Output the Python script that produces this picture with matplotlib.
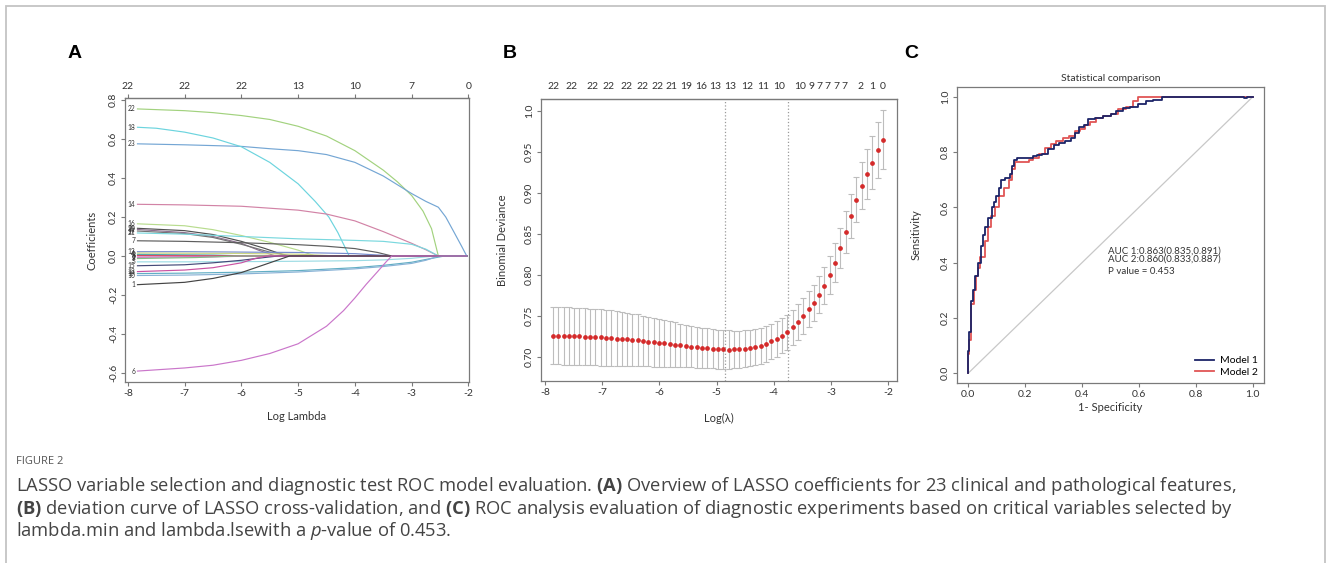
import numpy as np
import matplotlib
matplotlib.use("Agg")
import matplotlib.pyplot as plt
from matplotlib.patches import Rectangle

plt.rcParams['font.family'] = ['Lato', 'DejaVu Sans']
plt.rcParams['axes.unicode_minus'] = False
plt.rcParams['mathtext.fontset'] = 'custom'
plt.rcParams['mathtext.rm'] = 'Open Sans'
plt.rcParams['mathtext.bf'] = 'Open Sans:bold'
plt.rcParams['mathtext.it'] = 'Open Sans:italic'

# ---------------- panel A : lasso coefficient paths (log lambda, coef) ----------------
lam_end = -2.03
v22 = [(-7.83, 0.754), (-7, 0.745), (-6.5, 0.735), (-6, 0.72), (-5.5, 0.70), (-5, 0.665), (-4.5, 0.615),
       (-4, 0.54), (-3.5, 0.44), (-3.25, 0.38), (-3, 0.31), (-2.8, 0.23), (-2.65, 0.14), (-2.53, 0.0)]
v23 = [(-7.83, 0.575), (-7, 0.57), (-6, 0.562), (-5.5, 0.55), (-5, 0.54), (-4.5, 0.52), (-4, 0.48),
       (-3.5, 0.41), (-3, 0.32), (-2.75, 0.28), (-2.53, 0.25), (-2.4, 0.2), (-2.25, 0.12), (-2.12, 0.05), (-2.03, 0.0)]
v18 = [(-7.83, 0.66), (-7.5, 0.655), (-7, 0.635), (-6.5, 0.605), (-6, 0.56), (-5.5, 0.48), (-5, 0.37),
       (-4.7, 0.28), (-4.46, 0.2), (-4.3, 0.12), (-4.2, 0.06), (-4.1, 0.0)]
v14 = [(-7.83, 0.265), (-7, 0.262), (-6, 0.255), (-5, 0.235), (-4.5, 0.215), (-4, 0.18), (-3.5, 0.125),
       (-3, 0.065), (-2.75, 0.032), (-2.53, 0.0)]
v16 = [(-7.83, 0.165), (-7, 0.155), (-6.5, 0.135), (-6, 0.105), (-5.5, 0.07), (-5, 0.03), (-4.7, 0.0)]
v20 = [(-7.83, 0.142), (-7, 0.13), (-6.5, 0.11), (-6, 0.075), (-5.6, 0.04), (-5.2, 0.0)]
v11 = [(-7.83, 0.136), (-7, 0.12), (-6.5, 0.1), (-6, 0.065), (-5.7, 0.03), (-5.4, 0.0)]
v17 = [(-7.83, 0.128), (-7, 0.115), (-6.5, 0.095), (-6, 0.06), (-5.5, 0.02), (-5.1, 0.0)]
v21 = [(-7.83, 0.118), (-7, 0.112), (-6, 0.1), (-5, 0.088), (-4, 0.08), (-3.5, 0.075), (-3, 0.06),
       (-2.75, 0.035), (-2.53, 0.0)]
v7 = [(-7.83, 0.078), (-7, 0.075), (-6, 0.068), (-5, 0.058), (-4.5, 0.05), (-4, 0.038), (-3.6, 0.018), (-3.35, 0.0)]
v12 = [(-7.83, 0.022), (-7, 0.022), (-6, 0.02), (-5, 0.018), (-4, 0.012), (-3.3, 0.0)]
v4 = [(-7.83, 0.015), (-6, 0.013), (-5, 0.009), (-4.3, 0.0)]
v3 = [(-7.83, 0.008), (-6.5, 0.005), (-5.9, 0.0)]
v8 = [(-7.83, 0.002), (-6.5, 0.001), (-5.6, 0.0)]
v2 = [(-7.83, -0.006), (-6.5, -0.004), (-5.7, 0.0)]
v9 = [(-7.83, -0.013), (-6.8, -0.008), (-6.1, 0.0)]
v5 = [(-7.83, -0.03), (-7, -0.03), (-6, -0.029), (-5, -0.027), (-4, -0.024), (-3.5, -0.02), (-3, -0.012), (-2.6, 0.0)]
v15 = [(-7.83, -0.05), (-7, -0.045), (-6.5, -0.035), (-6, -0.022), (-5.6, -0.008), (-5.35, 0.0)]
v13 = [(-7.83, -0.08), (-7, -0.072), (-6.5, -0.06), (-6, -0.035), (-5.75, -0.012), (-5.55, 0.0)]
v19 = [(-7.83, -0.09), (-7, -0.088), (-6, -0.083), (-5, -0.075), (-4, -0.06), (-3.5, -0.048), (-3, -0.032),
       (-2.7, -0.015), (-2.42, 0.0)]
v10 = [(-7.83, -0.1), (-7, -0.098), (-6, -0.092), (-5, -0.082), (-4, -0.066), (-3.5, -0.054), (-3, -0.038),
       (-2.75, -0.022), (-2.52, 0.0)]
v1 = [(-7.83, -0.147), (-7, -0.135), (-6.5, -0.115), (-6, -0.085), (-5.6, -0.045), (-5.15, 0.0)]
v6 = [(-7.83, -0.59), (-7, -0.574), (-6.5, -0.56), (-6, -0.535), (-5.5, -0.5), (-5, -0.45), (-4.5, -0.36),
      (-4.2, -0.28), (-4, -0.215), (-3.8, -0.145), (-3.6, -0.08), (-3.45, -0.03), (-3.35, 0.0)]

a_paths = [(22, v22, '#A2D27E'), (23, v23, '#74A6D4'), (18, v18, '#6CD4DE'), (14, v14, '#D283A6'),
           (16, v16, '#B8DC8E'), (20, v20, '#505050'), (11, v11, '#8E7090'), (17, v17, '#747474'),
           (21, v21, '#7AD8DE'), (7, v7, '#5E5E5E'), (12, v12, '#748ACE'), (4, v4, '#CBD682'),
           (3, v3, '#58AAAA'), (8, v8, '#D44460'), (2, v2, '#C455B4'), (9, v9, '#84BE84'),
           (5, v5, '#9CDCE4'), (15, v15, '#444A78'), (13, v13, '#CA52A2'), (19, v19, '#62AEC4'),
           (10, v10, '#88B2D6'), (1, v1, '#444444'), (6, v6, '#CA76CA')]
a_top_ticks = [-8, -7, -6, -5, -4, -3, -2]
a_top_labels = ['22', '22', '22', '13', '10', '7', '0']

# ---------------- panel B : cross-validation deviance ----------------
b_loglam = [-7.86, -7.77, -7.67, -7.58, -7.49, -7.40, -7.30, -7.21, -7.12, -7.02,
            -6.93, -6.84, -6.74, -6.65, -6.56, -6.47, -6.37, -6.28, -6.19, -6.09,
            -6.00, -5.91, -5.81, -5.72, -5.63, -5.53, -5.44, -5.35, -5.26, -5.16,
            -5.07, -4.98, -4.88, -4.79, -4.70, -4.60, -4.51, -4.42, -4.33, -4.23,
            -4.14, -4.05, -3.95, -3.86, -3.77, -3.67, -3.58, -3.49, -3.39, -3.30,
            -3.21, -3.12, -3.02, -2.93, -2.84, -2.74, -2.65, -2.56, -2.46, -2.37,
            -2.28, -2.18, -2.09]
b_dev = [0.726, 0.726, 0.7258, 0.7255, 0.7252, 0.725, 0.7247, 0.7244, 0.7241, 0.7238,
         0.7234, 0.723, 0.7225, 0.722, 0.7214, 0.7208, 0.7202, 0.7195, 0.7188, 0.7181,
         0.7174, 0.7166, 0.7158, 0.715, 0.7142, 0.7134, 0.7127, 0.712, 0.7112, 0.7106,
         0.710, 0.7095, 0.7092, 0.7091, 0.7092, 0.7094, 0.710, 0.7108, 0.712, 0.7138,
         0.716, 0.719, 0.722, 0.726, 0.730, 0.736, 0.743, 0.750, 0.758, 0.766,
         0.776, 0.787, 0.800, 0.815, 0.833, 0.852, 0.872, 0.892, 0.909, 0.923,
         0.937, 0.952, 0.965]
b_se = [0.035, 0.035, 0.035, 0.035, 0.035, 0.035, 0.0348, 0.0346, 0.0344, 0.0342,
        0.034, 0.0337, 0.0334, 0.033, 0.0326, 0.0321, 0.0316, 0.031, 0.0304, 0.0298,
        0.0292, 0.0285, 0.0278, 0.0272, 0.0266, 0.026, 0.0255, 0.025, 0.0246, 0.0242,
        0.0239, 0.0236, 0.0234, 0.0232, 0.023, 0.0228, 0.0226, 0.0224, 0.0222, 0.022,
        0.0218, 0.0216, 0.0215, 0.0215, 0.0215, 0.0216, 0.0217, 0.0218, 0.022, 0.0222,
        0.0225, 0.0228, 0.0232, 0.0238, 0.0245, 0.0255, 0.0265, 0.0277, 0.029, 0.0305,
        0.032, 0.034, 0.036]
lam_min = -4.85
lam_1se = -3.75
b_top_pos = [-7.86, -7.545, -7.178, -6.898, -6.566, -6.303, -6.041, -5.779, -5.534, -5.271,
             -5.026, -4.764, -4.467, -4.187, -3.907, -3.540, -3.347, -3.207, -3.067, -2.910,
             -2.770, -2.473, -2.280, -2.088]
b_top_labels = ['22', '22', '22', '22', '22', '22', '22', '21', '19', '16', '13', '13', '12', '11',
                '10', '10', '9', '7', '7', '7', '7', '2', '1', '0']

# ---------------- panel C : ROC curves ----------------
m1_fpr = [0.0, 0.0, 0.006, 0.015, 0.02, 0.03, 0.04, 0.047, 0.055, 0.065, 0.075, 0.088, 0.094, 0.103,
          0.112, 0.12, 0.14, 0.15, 0.158, 0.165, 0.176, 0.22, 0.235, 0.25, 0.27, 0.29, 0.31, 0.33,
          0.35, 0.37, 0.38, 0.40, 0.415, 0.43, 0.46, 0.49, 0.51, 0.53, 0.56, 0.58, 0.61, 0.64, 0.66,
          0.70, 0.96, 0.98, 0.98, 1.0]
m1_tpr = [0.0, 0.08, 0.15, 0.26, 0.30, 0.35, 0.40, 0.46, 0.50, 0.53, 0.56, 0.60, 0.62, 0.64,
          0.67, 0.70, 0.705, 0.72, 0.75, 0.77, 0.779, 0.779, 0.785, 0.79, 0.795, 0.81, 0.825, 0.835,
          0.84, 0.85, 0.87, 0.89, 0.90, 0.92, 0.925, 0.93, 0.94, 0.95, 0.96, 0.965, 0.975, 0.985, 0.99,
          1.0, 1.0, 0.996, 1.0, 1.0]
m2_fpr = [0.0, 0.0, 0.006, 0.015, 0.022, 0.03, 0.04, 0.045, 0.058, 0.062, 0.075, 0.085, 0.10, 0.118,
          0.135, 0.15, 0.16, 0.168, 0.21, 0.22, 0.235, 0.26, 0.28, 0.30, 0.32, 0.345, 0.365, 0.385,
          0.40, 0.42, 0.435, 0.46, 0.49, 0.51, 0.54, 0.57, 0.59, 0.60, 1.0]
m2_tpr = [0.0, 0.07, 0.12, 0.25, 0.30, 0.35, 0.38, 0.42, 0.42, 0.48, 0.53, 0.57, 0.60, 0.64,
          0.67, 0.70, 0.74, 0.765, 0.765, 0.77, 0.78, 0.795, 0.815, 0.83, 0.84, 0.85, 0.86, 0.875,
          0.885, 0.90, 0.91, 0.925, 0.93, 0.94, 0.955, 0.965, 0.985, 1.0, 1.0]
chance = [0.0, 1.0]
auc_lines = ['AUC 1:0.863(0.835,0.891)', 'AUC 2:0.860(0.833,0.887)', 'P value = 0.453']
model_names = ['Model 1', 'Model 2']

caption_head = 'FIGURE 2'
caption_lines = [
    r'LASSO variable selection and diagnostic test ROC model evaluation. $\mathbf{(A)}$ Overview of LASSO coefficients for 23 clinical and pathological features,',
    r'$\mathbf{(B)}$ deviation curve of LASSO cross-validation, and $\mathbf{(C)}$ ROC analysis evaluation of diagnostic experiments based on critical variables selected by',
    r'lambda.min and lambda.lsewith a $\mathit{p}$-value of 0.453.',
]

W, H = 1330, 563
fig = plt.figure(figsize=(W / 100, H / 100), dpi=100)


def box(l, r, t, b):
    return [l / W, (H - b) / H, (r - l) / W, (b - t) / H]


def style(ax):
    for s in ax.spines.values():
        s.set_color('#7a7a7a')
        s.set_linewidth(0.9)
    ax.tick_params(colors='#7a7a7a', labelcolor='#333333', length=3, width=0.8, labelsize=7.5, pad=2)
    ax.tick_params(axis='y', labelrotation=90)
    for lab in ax.get_yticklabels():
        lab.set_va('center')


# ---- A ----
axA = fig.add_axes(box(125, 469, 98, 382))
for lab, pts, col in a_paths:
    xs = [p[0] for p in pts] + [lam_end]
    ys = [p[1] for p in pts] + [0.0]
    axA.plot(xs, ys, color=col, lw=0.85)
    axA.text(pts[0][0] - 0.04, pts[0][1], str(lab), ha='right', va='center', fontsize=4.8, color='#333333')
axA.set_xlim(-8.05, -1.99)
axA.set_ylim(-0.646, 0.81)
axA.set_xticks([-8, -7, -6, -5, -4, -3, -2])
axA.set_yticks([-0.6, -0.4, -0.2, 0.0, 0.2, 0.4, 0.6, 0.8])
axA.set_yticklabels(['-0.6', '-0.4', '-0.2', '0.0', '0.2', '0.4', '0.6', '0.8'])
style(axA)
secA = axA.secondary_xaxis('top')
secA.set_xticks(a_top_ticks, labels=a_top_labels)
secA.tick_params(colors='#7a7a7a', labelcolor='#333333', length=3, width=0.8, labelsize=7.5, pad=2)
axA.set_xlabel('Log Lambda', fontsize=8, color='#333333')
axA.set_ylabel('Coefficients', fontsize=8, color='#333333')
axA.xaxis.set_label_coords(0.5, -0.102)
axA.yaxis.set_label_coords(-0.081, 0.5)

# ---- B ----
axB = fig.add_axes(box(541, 897, 99, 381))
axB.errorbar(b_loglam, b_dev, yerr=b_se, fmt='o', ms=2.4, mfc='#D42A2A', mec='#D42A2A',
             ecolor='#BDBDBD', elinewidth=0.8, capsize=2.2, capthick=0.8)
axB.axvline(lam_min, color='#9a9a9a', ls=':', lw=0.9)
axB.axvline(lam_1se, color='#9a9a9a', ls=':', lw=0.9)
axB.set_xlim(-8.07, -1.843)
axB.set_ylim(0.6707, 1.0146)
axB.set_xticks([-8, -7, -6, -5, -4, -3, -2])
axB.set_yticks([0.70, 0.75, 0.80, 0.85, 0.90, 0.95, 1.0])
axB.set_yticklabels(['0.70', '0.75', '0.80', '0.85', '0.90', '0.95', '1.0'])
style(axB)
secB = axB.secondary_xaxis('top')
secB.set_xticks(b_top_pos, labels=b_top_labels)
secB.tick_params(length=0, labelcolor='#333333', labelsize=7.5, pad=6)
axB.set_xlabel('Log(λ)', fontsize=8, color='#333333')
axB.set_ylabel('Binomial Deviance', fontsize=8, color='#333333')
axB.xaxis.set_label_coords(0.5, -0.113)
axB.yaxis.set_label_coords(-0.093, 0.5)

# ---- C ----
axC = fig.add_axes(box(957, 1264, 87, 383))
axC.plot(chance, chance, color='#C8C8C8', lw=0.9)
axC.plot(m2_fpr, m2_tpr, color='#E05555', lw=1.3, drawstyle='steps-mid', label=model_names[1])
axC.plot(m1_fpr, m1_tpr, color='#1C2468', lw=1.3, drawstyle='steps-mid', label=model_names[0])
h, l = axC.get_legend_handles_labels()
axC.legend(h[::-1], l[::-1], loc='lower right', frameon=False, fontsize=7.5,
           handlelength=1.8, handletextpad=0.6, borderaxespad=0.2, labelspacing=0.2)
for txt, yy in zip(auc_lines, [0.442, 0.414, 0.366]):
    axC.text(0.49, yy, txt, fontsize=7, color='#333333', va='center')
axC.set_xlim(-0.04, 1.04)
axC.set_ylim(-0.036, 1.036)
axC.set_xticks([0, 0.2, 0.4, 0.6, 0.8, 1.0])
axC.set_xticklabels(['0.0', '0.2', '0.4', '0.6', '0.8', '1.0'])
axC.set_yticks([0, 0.2, 0.4, 0.6, 0.8, 1.0])
axC.set_yticklabels(['0.0', '0.2', '0.4', '0.6', '0.8', '1.0'])
style(axC)
axC.set_title('Statistical comparison', fontsize=7.5, color='#333333', pad=4)
axC.set_xlabel('1- Specificity', fontsize=8, color='#333333')
axC.set_ylabel('Sensitivity', fontsize=8, color='#333333')
axC.xaxis.set_label_coords(0.5, -0.064)
axC.yaxis.set_label_coords(-0.114, 0.5)

# panel letters
for letter, px, py in [('A', 75, 53), ('B', 510, 53), ('C', 911, 54)]:
    fig.text(px / W, 1 - py / H, letter, fontsize=14, fontweight='bold',
             family=['Liberation Sans', 'DejaVu Sans'], ha='center', va='center')

# caption
fig.text(16 / W, 1 - 462 / H, caption_head, fontsize=8, color='#555555',
         family=['Open Sans', 'DejaVu Sans'], va='center')
for i, line in enumerate(caption_lines):
    fig.text(16 / W, 1 - (486 + 22.5 * i) / H, line, fontsize=13.2, color='#444444',
             family=['Open Sans', 'DejaVu Sans'], va='center')

fig.patches.append(Rectangle((6 / W, -0.05), 1319 / W, 1.05 - 6 / H, transform=fig.transFigure,
                             fill=False, ec='#C4C4C4', lw=1.3))

fig.savefig('out.png', dpi=100)
